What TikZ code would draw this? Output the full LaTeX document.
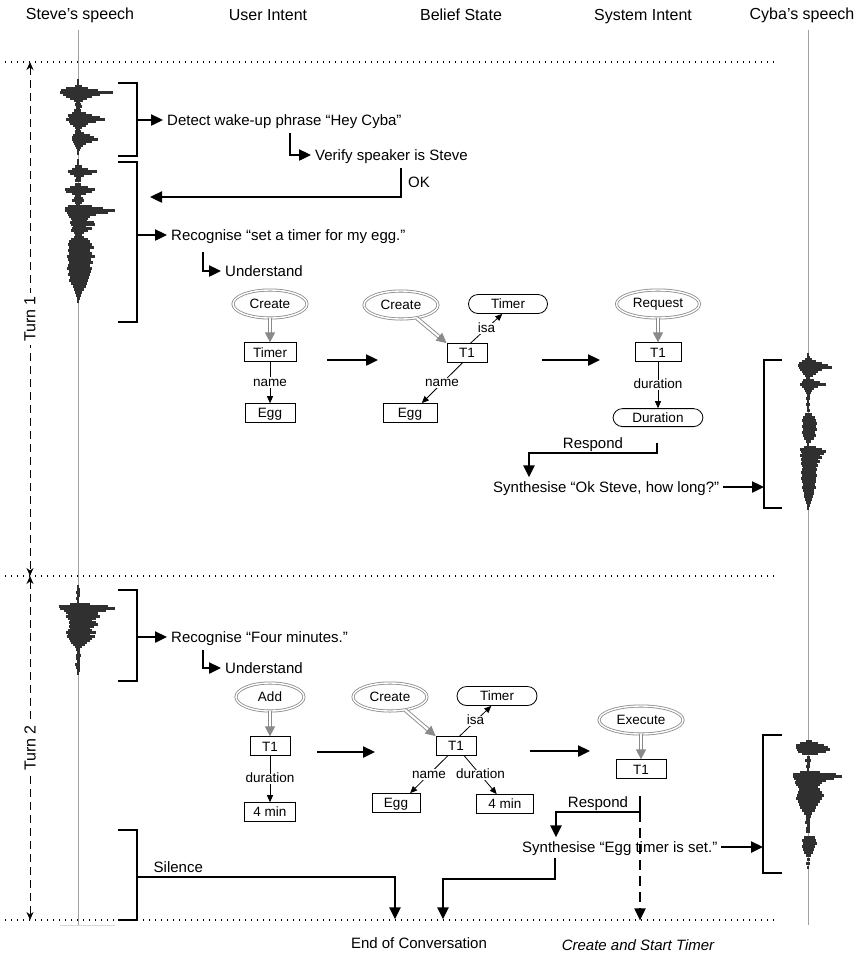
\documentclass[tikz,border=0pt]{standalone}
\usepackage{fontspec}
\setmainfont{Liberation Sans}
\usetikzlibrary{arrows.meta,positioning,shapes.geometric,decorations.markings}
\definecolor{wavegrey}{HTML}{303030}
\definecolor{axisgrey}{HTML}{A0A0A0}
\definecolor{intentgrey}{HTML}{8A8A8A}
\newcommand{\headfont}{\fontsize{16}{19}\selectfont}
\newcommand{\sayfont}{\fontsize{15}{18}\selectfont}
\newcommand{\graphfont}{\fontsize{13.5}{16}\selectfont}
\newcommand{\SteveWaveOne}{79/1/1, 82/1/1, 85/3/4, 87/12/10, 89/17/20, 91/18/35, 93/15/22, 95/12/14,
  97/8/9, 99/4/5, 101/2/2, 103/3/3, 105/2/4, 107/2/2, 109/4/3, 112/6/8, 114/10/14, 116/9/22,
  118/12/27, 120/9/18, 122/8/10, 124/5/8, 126/3/4, 128/2/2, 130/3/3, 132/3/6, 134/5/12, 136/6/16,
  138/6/20, 140/5/14, 142/4/8, 144/3/5, 146/2/3, 148/1/2, 150/1/1, 152/1/1, 159/1/1, 162/1/1,
  165/3/4, 168/6/10, 170/10/19, 172/8/14, 174/4/6, 176/2/3, 179/3/3, 183/3/3, 186/8/10, 188/13/17,
  190/12/14, 192/6/8, 194/3/3, 197/4/5, 199/6/6, 201/3/4, 203/2/2, 205/10/14, 207/13/25, 209/13/37,
  211/11/30, 213/10/18, 215/9/12, 217/7/10, 219/6/9, 221/8/16, 223/7/17, 225/5/8, 227/6/14,
  229/7/10, 231/4/6, 233/3/4, 236/4/6, 238/7/10, 240/9/12, 243/10/14, 246/9/16, 249/10/12,
  252/9/14, 255/11/17, 258/10/13, 261/9/15, 264/10/12, 267/11/14, 270/9/13, 273/10/12, 276/8/11,
  279/9/10, 282/7/9, 285/5/8, 288/4/6, 291/3/4, 294/2/3, 297/1/2, 300/1/1}
\newcommand{\SteveWaveTwo}{585/1/1, 588/1/2, 591/2/2, 594/1/2, 597/2/1, 600/1/1, 603/8/12,
  605/19/30, 607/18/37, 609/14/28, 611/12/20, 613/10/20, 615/12/22, 617/10/18, 619/8/14, 621/9/18,
  623/8/20, 625/9/16, 627/8/12, 629/10/14, 631/12/18, 633/10/12, 635/11/17, 637/9/14, 639/8/12,
  641/7/9, 643/5/7, 645/3/4, 648/2/2, 651/1/2, 654/2/3, 657/2/2, 660/1/2, 663/3/2, 666/2/2,
  669/1/2, 672/1/1}
\newcommand{\CybaWaveOne}{353/1/1, 356/1/2, 358/3/4, 360/6/8, 362/9/14, 364/10/20, 366/9/24,
  368/8/14, 370/6/10, 372/5/8, 374/3/5, 377/2/2, 379/5/6, 381/6/12, 383/8/18, 385/6/10, 387/4/6,
  389/3/4, 391/2/3, 394/1/2, 397/2/2, 400/1/1, 403/2/2, 406/1/1, 409/1/2, 413/3/4, 416/5/7,
  419/6/8, 422/5/9, 425/6/8, 428/5/9, 431/6/7, 434/5/8, 437/4/6, 440/2/3, 443/1/1, 446/4/8,
  448/8/14, 450/7/18, 452/6/16, 454/8/12, 456/6/14, 458/7/10, 460/6/12, 462/7/9, 464/6/10,
  466/5/8, 468/6/9, 471/7/8, 474/6/9, 477/7/8, 480/6/8, 483/5/7, 486/6/8, 489/5/6, 492/4/6,
  495/4/5, 498/3/4, 501/2/3, 504/1/2, 507/1/1}
\newcommand{\CybaWaveTwo}{740/2/4, 742/8/10, 744/12/16, 746/12/20, 748/11/22, 750/10/18, 752/6/10,
  756/1/2, 759/3/3, 762/1/2, 765/2/2, 768/1/1, 771/8/12, 773/15/28, 775/15/34, 777/14/26,
  779/12/18, 781/13/14, 783/12/12, 785/10/10, 788/9/12, 791/10/14, 794/11/16, 797/12/14,
  800/10/12, 803/9/10, 806/8/8, 809/6/7, 812/4/4, 815/2/3, 818/2/2, 821/3/2, 824/1/2, 827/2/2,
  830/2/2, 836/4/7, 839/6/8, 842/5/9, 845/6/7, 848/5/6, 851/4/5, 854/2/3, 858/1/2, 862/2/2,
  866/1/1}

\begin{document}
\begin{tikzpicture}[x=1pt, y=-1pt, font=\sayfont,
  ttl/.style={font=\headfont, inner sep=2pt},
  lab/.style={font=\sayfont, inner sep=3pt, text height=10.8pt, text depth=0pt},
  say/.style={lab, anchor=west, inner sep=4pt},
  intent/.style={ellipse, draw=intentgrey, double=white, double distance=1.4pt, line width=0.8pt,
                 minimum width=74pt, minimum height=28pt, inner sep=0pt, font=\graphfont},
  slot/.style={draw, line width=0.8pt, minimum width=40pt, minimum height=19pt, inner sep=0pt,
               text height=9.7pt, text depth=0pt, font=\graphfont},
  cls/.style={slot, rounded corners=9.5pt},
  rel/.style={fill=white, inner sep=1.5pt, text height=7.5pt, text depth=0pt, font=\graphfont},
  edge/.style={line width=0.8pt, -{Triangle[length=7pt, width=6pt]}},
  hollow/.style={draw=intentgrey, line width=4pt, shorten >=9pt,
                 postaction={draw=white, line width=2.2pt},
                 postaction={decorate, decoration={markings, mark=at position 1 with
                   {\arrow[draw=intentgrey, fill=white, line width=0.9pt]{Triangle[length=10pt, width=10pt]}}}}},
  bigarrow/.style={line width=2.4pt, -{Triangle[length=12pt, width=11pt]}},
  dasharrow/.style={bigarrow, line width=2pt, dash pattern=on 10pt off 6pt},
  bracket/.style={line width=2.2pt},
  turn/.style={line width=1pt, dash pattern=on 8pt off 5pt,
               {Stealth[length=8pt, width=7pt]}-{Stealth[length=8pt, width=7pt]}},
  turnlab/.style={font=\headfont, rotate=90, fill=white, inner sep=3pt},
  sep/.style={line width=1.1pt, dash pattern=on 1.2pt off 4.8pt},
  axis/.style={draw=axisgrey, line width=0.8pt},
  wave/.style={fill=wavegrey}]
\useasboundingbox (0,0) rectangle (865,954);

\node[ttl] (hsteve) at (80,15) {Steve’s speech};
\node[ttl] (huser) at (268,15) {User Intent};
\node[ttl] (hbelief) at (461,15) {Belief State};
\node[ttl] (hsystem) at (643,17) {System Intent};
\node[ttl] (hcyba) at (802,15) {Cyba’s speech};

\draw[axis] (78,30) -- (78,925);
\draw[axis] (808,30) -- (808,925);
\draw[axis, draw=axisgrey!40] (60,925) -- (115,925);
\foreach \wy/\wl/\wr in \SteveWaveOne
  \fill[wave] (78-\wl,\wy) rectangle (78+\wr,\wy+3.3);
\foreach \wy/\wl/\wr in \SteveWaveTwo
  \fill[wave] (78-\wl,\wy) rectangle (78+\wr,\wy+3.3);
\foreach \wy/\wl/\wr in \CybaWaveOne
  \fill[wave] (808-\wl,\wy) rectangle (808+\wr,\wy+3.3);
\foreach \wy/\wl/\wr in \CybaWaveTwo
  \fill[wave] (808-\wl,\wy) rectangle (808+\wr,\wy+3.3);

\foreach \sy in {62,576,920}
  \draw[sep] (5,\sy) -- (777,\sy);
\coordinate (turnA) at (30,62);
\coordinate (turnB) at (30,576);
\coordinate (turnC) at (30,920);
\draw[turn] (turnA) -- (turnB);
\draw[turn] (turnB) -- (turnC);
\node[turnlab] (turn1) at (30,319) {Turn 1};
\node[turnlab] (turn2) at (30,748) {Turn 2};

\draw[bracket] (118,83) -| (137,156) -- (118,156);
\draw[bracket] (118,162) -| (137,322) -- (118,322);
\coordinate (sb1) at (137,120);
\coordinate (sb2) at (137,235);
\node[say] (detect) at (163,120) {Detect wake-up phrase “Hey Cyba”};
\coordinate (vfy) at (290,133);
\node[say] (verify) at (311,155) {Verify speaker is Steve};
\coordinate (okup) at (401,168);
\coordinate (okin) at (150,197);
\node[say] (recog1) at (167,235) {Recognise “set a timer for my egg.”};
\coordinate (und1) at (203,252);
\node[say] (under1) at (221,271) {Understand};
\draw[bigarrow] (sb1) -- (detect);
\draw[bigarrow] (vfy) |- (verify);
\draw[bigarrow] (okup) |- node[lab, right, pos=.25, xshift=3pt] (ok) {OK} (okin);
\draw[bigarrow] (sb2) -- (recog1);
\draw[bigarrow] (und1) |- (under1);

\node[intent] (create1) at (270,304) {Create};
\node[slot, minimum width=52pt, below=24pt of create1] (timer1) {Timer};
\node[slot, minimum width=50pt, below=41pt of timer1] (egg1) {Egg};
\draw[hollow] (create1) -- (timer1);
\draw[edge] (timer1) -- node[rel] (name1) {name} (egg1);
\coordinate (step1a) at (327,360);
\coordinate (step1b) at (378,360);
\draw[bigarrow] (step1a) -- (step1b);

\node[intent] (create2) at (401,305) {Create};
\node[cls, minimum width=79pt] (class1) at (508,304) {Timer};
\node[slot] (t1a) at (467,353) {T1};
\node[slot, minimum width=54pt] (egg2) at (410,413) {Egg};
\draw[hollow] (create2) -- (t1a.north west);
\draw[edge] (t1a.70) -- node[rel] (isa1) {isa} (class1.-120);
\draw[edge] (t1a.-115) -- node[rel] (name2) {name} (egg2.40);
\coordinate (step2a) at (542,360);
\coordinate (step2b) at (600,360);
\draw[bigarrow] (step2a) -- (step2b);

\node[intent, minimum width=83pt] (request) at (658,304) {Request};
\node[slot, minimum width=46pt, below=24pt of request] (t1b) {T1};
\node[cls, minimum width=90pt, minimum height=18pt, below=46pt of t1b] (dur1) {Duration};
\draw[hollow] (request) -- (t1b);
\draw[edge] (t1b) -- node[rel] (dlab1) {duration} (dur1);

\coordinate (resp1) at (657,443);
\coordinate (resp1b) at (529,453);
\node[say] (synth1) at (489,487) {Synthesise “Ok Steve, how long?”};
\draw[bigarrow] (resp1) |- node[lab, above, pos=.75] (rlab1) {Respond} (resp1b)
  -- (resp1b |- synth1.north);
\coordinate (cb1) at (764,487);
\draw[bigarrow] (synth1) -- (cb1);
\draw[bracket] (782,360) -| (764,508) -- (782,508);

\draw[bracket] (118,590) -| (137,681) -- (118,681);
\coordinate (sb3) at (137,637);
\node[say] (recog2) at (167,637) {Recognise “Four minutes.”};
\coordinate (und2) at (203,650);
\node[say] (under2) at (221,668) {Understand};
\draw[bigarrow] (sb3) -- (recog2);
\draw[bigarrow] (und2) |- (under2);

\node[intent, minimum width=68pt] (add) at (270,697) {Add};
\node[slot, below=25pt of add] (t1c) {T1};
\node[slot, minimum width=51pt, below=46pt of t1c] (min1) {4 min};
\draw[hollow] (add) -- (t1c);
\draw[edge] (t1c) -- node[rel] (dlab2) {duration} (min1);
\coordinate (step3a) at (317,752);
\coordinate (step3b) at (375,752);
\draw[bigarrow] (step3a) -- (step3b);

\node[intent] (create3) at (390,697) {Create};
\node[cls, minimum width=80pt] (class2) at (497,696) {Timer};
\node[slot] (t1d) at (456,746) {T1};
\node[slot, minimum width=48pt] (egg3) at (396,803) {Egg};
\node[slot, minimum width=57pt] (min2) at (505,804) {4 min};
\draw[hollow] (create3) -- (t1d.north west);
\draw[edge] (t1d.70) -- node[rel] (isa2) {isa} (class2.-120);
\draw[edge] (t1d.-130) -- node[rel] (name3) {name} (egg3.35);
\draw[edge] (t1d.-50) -- node[rel] (dlab3) {duration} (min2.130);
\coordinate (step4a) at (530,751);
\coordinate (step4b) at (590,751);
\draw[bigarrow] (step4a) -- (step4b);

\node[intent, minimum width=84pt] (execute) at (641,720) {Execute};
\node[slot, minimum width=50pt, below=25pt of execute] (t1e) {T1};
\draw[hollow] (execute) -- (t1e);

\coordinate (resp2) at (640,796);
\coordinate (resp2b) at (556,812);
\coordinate (timerfork) at (640,812);
\node[say] (synth2) at (518,847) {Synthesise “Egg timer is set.”};
\node[lab, font=\sayfont\itshape] (startTimer) at (638,945) {Create and Start Timer};
\node[lab] (endConv) at (419,943) {End of Conversation};
\draw[bigarrow] (resp2) |- node[lab, above, pos=.75] (rlab2) {Respond} (resp2b)
  -- (resp2b |- synth2.north);
\draw[dasharrow, shorten >=16pt] (timerfork) -- (timerfork |- startTimer.north);
\coordinate (cb2) at (763,847);
\draw[bigarrow] (synth2) -- (cb2);
\draw[bracket] (782,735) -| (763,873) -- (782,873);

\draw[bracket] (118,830) -| (137,920) -- (118,920);
\coordinate (sb4) at (137,877);
\coordinate (silence) at (395,877);
\draw[bigarrow, shorten >=15pt] (sb4) -- node[lab, above, pos=.16] (silLab) {Silence} (silence)
  -- (silence |- endConv.north);
\coordinate (synthOut) at (555,858);
\coordinate (endIn) at (443,879);
\draw[bigarrow, shorten >=15pt] (synthOut) |- (endIn) -- (endIn |- endConv.north);
\end{tikzpicture}
\end{document}
